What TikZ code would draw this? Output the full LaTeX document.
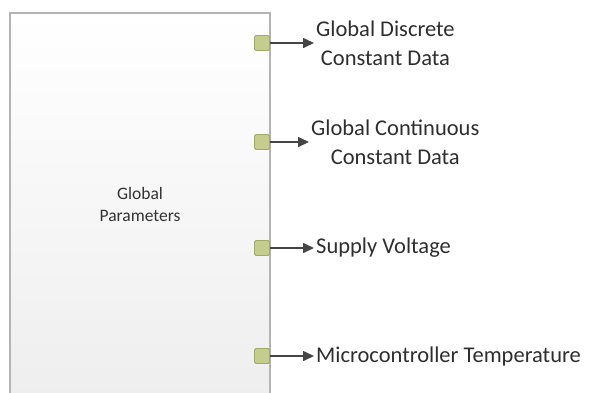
\documentclass[tikz,border=0pt]{standalone}
\usepackage{fontspec}
\setmainfont{Carlito}
\usetikzlibrary{arrows.meta}
\definecolor{boxline}{HTML}{B4B4B4}
\definecolor{portfill}{HTML}{C4CC8E}
\definecolor{portline}{HTML}{A0AA66}
\definecolor{wire}{HTML}{454545}
\tikzset{
  portbox/.style={draw=portline, fill=portfill, line width=0.8pt, minimum size=15pt, inner sep=0pt, rounded corners=1.5pt},
  outlabel/.style={font=\fontsize{22.5}{29}\selectfont, text=black!82, inner sep=2pt, align=center},
  flow/.style={draw=wire, line width=1.6pt, -{Triangle[length=11pt,width=10pt]}}
}
\begin{document}
\begin{tikzpicture}[x=1pt,y=-1pt]
  \useasboundingbox (0,0) rectangle (591,392);
  \begin{scope}
    \clip (0,0) rectangle (591,392);
    \shade[top color=white, bottom color=black!7] (10,13) rectangle (270,420);
    \draw[boxline, line width=1.6pt] (10,420) -- (10,13) -- (270,13) -- (270,420);
  \end{scope}
  \node[font=\fontsize{17.5}{22}\selectfont, text=black!80, align=center] (gp) at (140,204) {Global\\Parameters};

  \node[portbox] (p1) at (262,43) {};
  \node[portbox] (p2) at (262,142) {};
  \node[portbox] (p3) at (262,248) {};
  \node[portbox] (p4) at (262,356) {};

  \node[outlabel, anchor=west] (l1) at (314,43) {Global Discrete\\Constant Data};
  \node[outlabel, anchor=west] (l2) at (309,142) {Global Continuous\\Constant Data};
  \node[outlabel, anchor=west] (l3) at (314,248) {Supply Voltage};
  \node[outlabel, anchor=west] (l4) at (314,356) {Microcontroller Temperature};

  \draw[flow] (p1.east) -- (l1.west);
  \draw[flow] (p2.east) -- (l2.west);
  \draw[flow] (p3.east) -- (l3.west);
  \draw[flow] (p4.east) -- (l4.west);
\end{tikzpicture}
\end{document}
